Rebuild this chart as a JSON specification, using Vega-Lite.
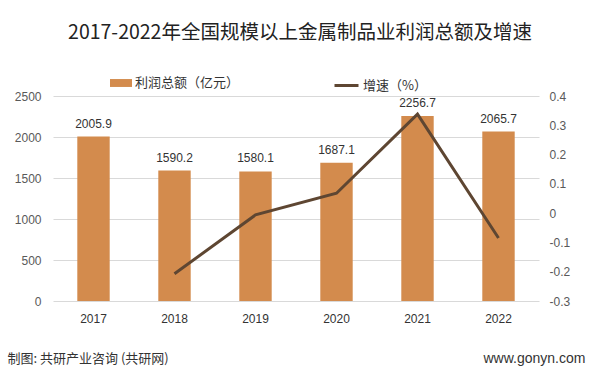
{
  "$schema": "https://vega.github.io/schema/vega-lite/v6.json",
  "autosize": {"type": "none"},
  "width": 486,
  "height": 205,
  "padding": {"left": 53, "top": 96, "right": 60, "bottom": 74},
  "background": "white",
  "config": {"view": {"stroke": null}},
  "title": {
    "text": "2017-2022年全国规模以上金属制品业利润总额及增速",
    "font": "Noto Sans CJK SC",
    "fontSize": 19.5,
    "fontWeight": "normal",
    "color": "#222222",
    "anchor": "middle",
    "offset": 29,
    "dx": 4
  },
  "data": {
    "values": [
      {"year": "2017", "profit": 2005.9, "growth": null, "s1": "利润总额（亿元）", "s2": "增速（%）"},
      {"year": "2018", "profit": 1590.2, "growth": -0.207, "s1": "利润总额（亿元）", "s2": "增速（%）"},
      {"year": "2019", "profit": 1580.1, "growth": -0.006, "s1": "利润总额（亿元）", "s2": "增速（%）"},
      {"year": "2020", "profit": 1687.1, "growth": 0.068, "s1": "利润总额（亿元）", "s2": "增速（%）"},
      {"year": "2021", "profit": 2256.7, "growth": 0.338, "s1": "利润总额（亿元）", "s2": "增速（%）"},
      {"year": "2022", "profit": 2065.7, "growth": -0.085, "s1": "利润总额（亿元）", "s2": "增速（%）"}
    ]
  },
  "encoding": {
    "x": {
      "field": "year",
      "type": "nominal",
      "sort": null,
      "scale": {"paddingInner": 0.6, "paddingOuter": 0.3},
      "axis": {
        "labelAngle": 0,
        "labelFont": "Liberation Sans",
        "labelFontSize": 12,
        "labelColor": "#333333",
        "labelPadding": 12,
        "ticks": false,
        "domain": false,
        "title": "制图: 共研产业咨询 (共研网)",
        "titleFont": "Noto Sans CJK SC",
        "titleFontSize": 13,
        "titleFontWeight": "normal",
        "titleColor": "#333333",
        "titleAlign": "left",
        "titleBaseline": "middle",
        "titleAnchor": null,
        "titleX": -46,
        "titleY": 57
      }
    }
  },
  "layer": [
    {
      "mark": {"type": "bar", "color": "#D38B4D"},
      "encoding": {
        "y": {
          "field": "profit",
          "type": "quantitative",
          "scale": {"domain": [0, 2500]},
          "axis": {
            "values": [0, 500, 1000, 1500, 2000, 2500],
            "format": "d",
            "labelFont": "Liberation Sans",
            "labelFontSize": 12,
            "labelColor": "#595959",
            "labelPadding": 12,
            "gridColor": "#D9D9D9",
            "ticks": false,
            "domain": false,
            "title": null
          }
        },
        "fill": {
          "field": "s1",
          "type": "nominal",
          "scale": {"range": ["#D38B4D"]},
          "legend": {
            "title": null,
            "orient": "none",
            "legendX": 57,
            "legendY": -24,
            "symbolType": "M-1,-0.36H1V0.36H-1Z",
            "symbolSize": 484,
            "symbolStrokeWidth": 0,
            "labelFont": "Noto Sans CJK SC",
            "labelFontSize": 13,
            "labelColor": "#333333",
            "labelOffset": 3
          }
        }
      }
    },
    {
      "mark": {"type": "text", "baseline": "bottom", "dy": -6, "font": "Liberation Sans", "fontSize": 12, "color": "#333333"},
      "encoding": {
        "y": {"field": "profit", "type": "quantitative", "scale": {"domain": [0, 2500]}, "axis": null},
        "text": {"field": "profit", "type": "quantitative", "format": ".1f"}
      }
    },
    {
      "mark": {"type": "line", "strokeWidth": 3, "color": "#5E4632"},
      "transform": [{"filter": "datum.growth != null"}],
      "encoding": {
        "y": {
          "field": "growth",
          "type": "quantitative",
          "scale": {"domain": [-0.3, 0.4]},
          "axis": {
            "orient": "right",
            "values": [-0.3, -0.2, -0.1, 0, 0.1, 0.2, 0.3, 0.4],
            "labelExpr": "datum.value < 0 ? '-' + format(-datum.value, '~g') : format(datum.value, '~g')",
            "labelFont": "Liberation Sans",
            "labelFontSize": 12,
            "labelColor": "#595959",
            "labelPadding": 10,
            "grid": false,
            "ticks": false,
            "domain": false,
            "title": "www.gonyn.com",
            "titleAngle": 0,
            "titleFont": "Liberation Sans",
            "titleFontSize": 14,
            "titleFontWeight": "normal",
            "titleColor": "#333333",
            "titleAlign": "left",
            "titleBaseline": "middle",
            "titleX": -56,
            "titleY": 262
          }
        },
        "stroke": {
          "field": "s2",
          "type": "nominal",
          "scale": {"range": ["#5E4632"]},
          "legend": {
            "title": null,
            "orient": "none",
            "legendX": 280,
            "legendY": -24,
            "symbolType": "stroke",
            "symbolSize": 576,
            "symbolStrokeWidth": 3,
            "labelFont": "Noto Sans CJK SC",
            "labelFontSize": 13,
            "labelColor": "#333333",
            "labelOffset": 3
          }
        }
      }
    }
  ],
  "resolve": {"scale": {"y": "independent", "fill": "independent", "stroke": "independent"}}
}
